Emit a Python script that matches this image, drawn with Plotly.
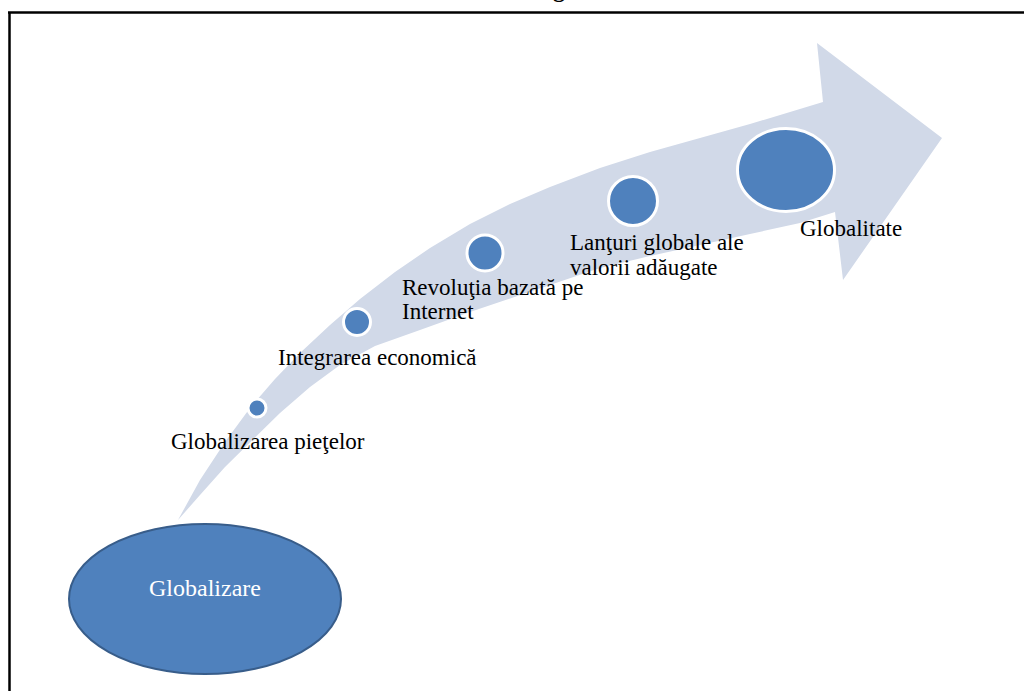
import plotly.graph_objects as go

W, H = 1024, 691

# Curved arrow outline (pixel space, y down)
upper_x = [178, 200, 225, 250, 275, 300, 330, 360, 395, 430, 470, 510, 550, 600, 650, 700, 750, 823]
upper_y = [520, 480, 442, 408, 379, 353, 325, 299, 272, 248, 224, 204, 187, 168, 152, 138, 124, 102]
head_x = [817, 942, 843]
head_y = [43, 138, 280]
lower_x = [178, 200, 225, 250, 280, 310, 340, 375, 420, 470, 520, 570, 600, 650, 700, 750, 800, 835]
lower_y = [520, 495, 467, 442, 413, 387, 365, 346, 330, 312, 295, 278, 268, 256, 245, 234, 223, 212]

# Stage circles
circle_cx = [257, 357, 485, 633, 786]
circle_cy = [408, 322, 253, 201, 170]
circle_rx = [9, 13.5, 18, 24.5, 48.5]
circle_ry = [9, 13.5, 18, 24.5, 41.5]

# Labels (one entry per line)
label_text = ["Globalizarea pieţelor", "Integrarea economică",
              "Revoluţia bazată\u00a0pe", "Internet",
              "Lanţuri globale ale", "valorii adăugate", "Globalitate"]
label_x = [170, 277, 401, 401, 569, 569, 799]
label_y = [441, 357, 287, 311, 242, 267, 228]

# Base ellipse
base_cx, base_cy, base_rx, base_ry = 205, 599, 136, 75
base_text = "Globalizare"

fig = go.Figure()

ax = upper_x + head_x + lower_x[::-1]
ay = upper_y + head_y + lower_y[::-1]
fig.add_trace(go.Scatter(x=ax, y=ay, mode="lines", fill="toself",
                         fillcolor="#D1D9E8", line=dict(width=0, color="#D1D9E8"),
                         hoverinfo="skip", showlegend=False))

shapes = []
# border lines
shapes.append(dict(type="line", xref="x", yref="y", x0=8, x1=W, y0=12.5, y1=12.5,
                   line=dict(color="black", width=2.5)))
shapes.append(dict(type="line", xref="x", yref="y", x0=9.5, x1=9.5, y0=12, y1=H,
                   line=dict(color="black", width=2.5)))
for cx, cy, rx, ry in zip(circle_cx, circle_cy, circle_rx, circle_ry):
    shapes.append(dict(type="circle", xref="x", yref="y",
                       x0=cx - rx, x1=cx + rx, y0=cy - ry, y1=cy + ry,
                       fillcolor="#4F81BD", line=dict(color="white", width=3)))
shapes.append(dict(type="circle", xref="x", yref="y",
                   x0=base_cx - base_rx, x1=base_cx + base_rx,
                   y0=base_cy - base_ry, y1=base_cy + base_ry,
                   fillcolor="#4F81BD", line=dict(color="#385D8A", width=2)))

annotations = []
for t, x, y in zip(label_text, label_x, label_y):
    annotations.append(dict(text=t, x=x, y=y, xref="x", yref="y",
                            xanchor="left", yanchor="middle", showarrow=False,
                            borderpad=0,
                            font=dict(family="Liberation Serif", size=23, color="black")))
annotations.append(dict(text=base_text, x=base_cx, y=588, xref="x", yref="y",
                        xanchor="center", yanchor="middle", showarrow=False,
                        font=dict(family="Liberation Serif", size=24, color="black" if False else "white")))
annotations.append(dict(text="<b>g</b>", x=559, y=3, xref="x", yref="y",
                        xanchor="center", yanchor="bottom", showarrow=False, borderpad=0,
                        font=dict(family="Liberation Serif", size=24, color="black")))

fig.update_layout(width=W, height=H, margin=dict(l=0, r=0, t=0, b=0),
                  paper_bgcolor="white", plot_bgcolor="white",
                  xaxis=dict(range=[0, W], visible=False, fixedrange=True),
                  yaxis=dict(range=[H, 0], visible=False, fixedrange=True),
                  shapes=shapes, annotations=annotations, showlegend=False)

fig.write_html("out.html", config={"displayModeBar": False, "staticPlot": True},
               post_script="document.body.style.margin='0';document.body.style.overflow='hidden';")
